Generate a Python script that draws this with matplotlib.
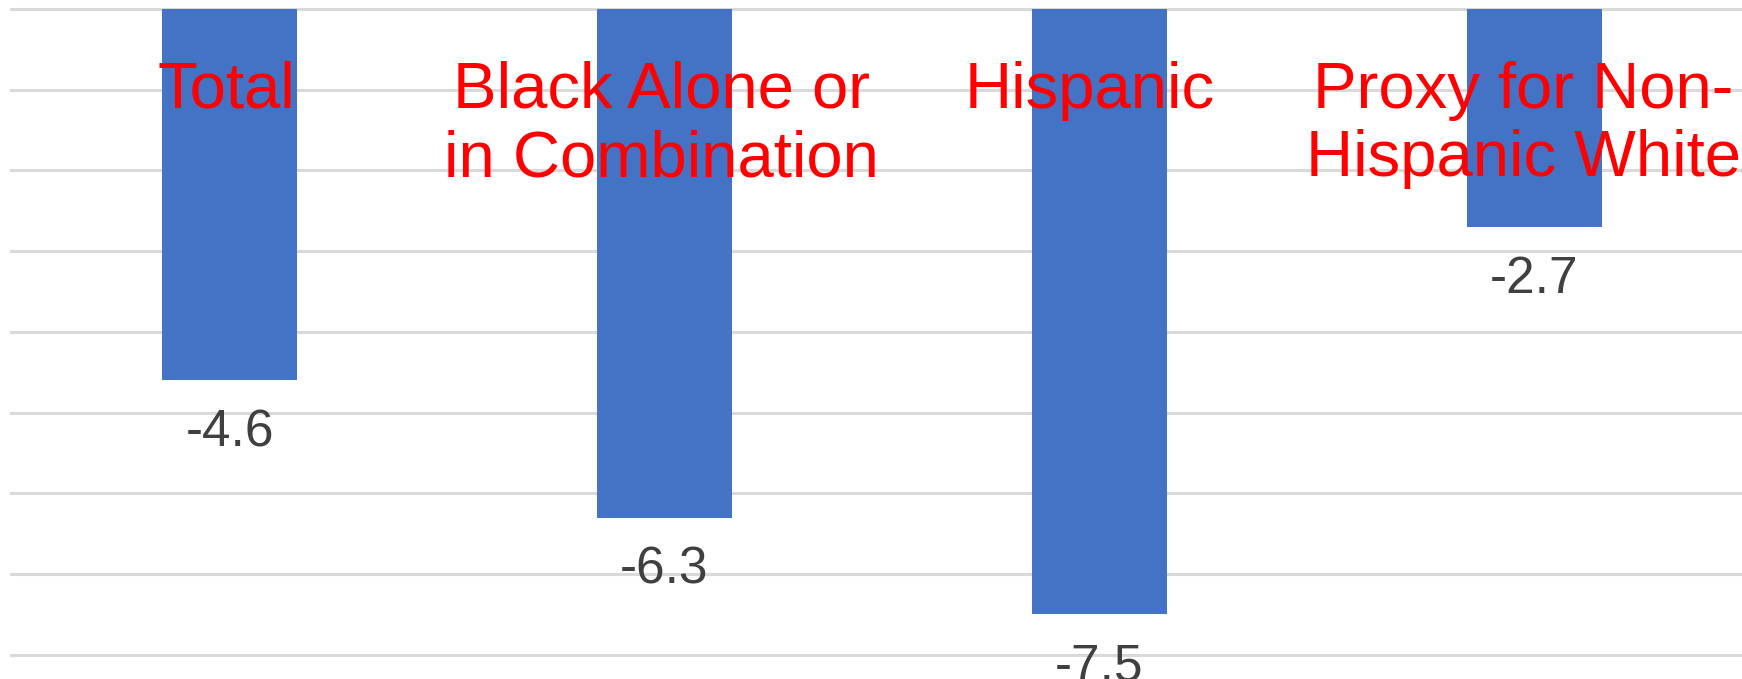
import numpy as np
import matplotlib
matplotlib.use('Agg')
import matplotlib.pyplot as plt

# chart data
categories = ['Total', 'Black Alone or\nin Combination', 'Hispanic',
              'Proxy for Non-\nHispanic White']
values = [-4.6, -6.3, -7.5, -2.7]
value_labels = ['-4.6', '-6.3', '-7.5', '-2.7']
grid_ticks = [0, -1, -2, -3, -4, -5, -6, -7, -8]

plt.rcParams['font.family'] = ['Liberation Sans', 'DejaVu Sans']

W, H, DPI = 1742, 679, 100
fig = plt.figure(figsize=(W / DPI, H / DPI), dpi=DPI)
left = 10 / W
ax = fig.add_axes([left, 0, 1 - left, 1])

x = np.arange(len(categories))
ax.bar(x, values, width=0.311, color='#4472C4', zorder=2)

ax.set_xlim(-0.505, 3.478)
ax.set_ylim(-8.30, 0.1115)
ax.set_yticks(grid_ticks)
ax.yaxis.grid(True, color='#d9d9d9', linewidth=2.2, zorder=0)
ax.set_axisbelow(True)
ax.tick_params(left=False, bottom=False, labelleft=False, labelbottom=False)
for s in ax.spines.values():
    s.set_visible(False)

# value labels under the bars
for xi, v, lab in zip(x, values, value_labels):
    ax.annotate(lab, (xi, v), xytext=(0, -20), textcoords='offset points',
                ha='center', va='top', fontsize=37, color='#404040',
                annotation_clip=False)

# category labels in red near the top (slightly nudged left like the original)
nudge = [-2, -2, -7, -8]
for xi, cat, dx in zip(x, categories, nudge):
    ax.annotate(cat, (xi, 1 - 61 / H), xycoords=('data', 'figure fraction'),
                xytext=(dx, 0), textcoords='offset points',
                ha='center', va='top', fontsize=47, color='#ff0000',
                linespacing=1.18, zorder=3, annotation_clip=False)

fig.savefig('out.png', dpi=DPI)
